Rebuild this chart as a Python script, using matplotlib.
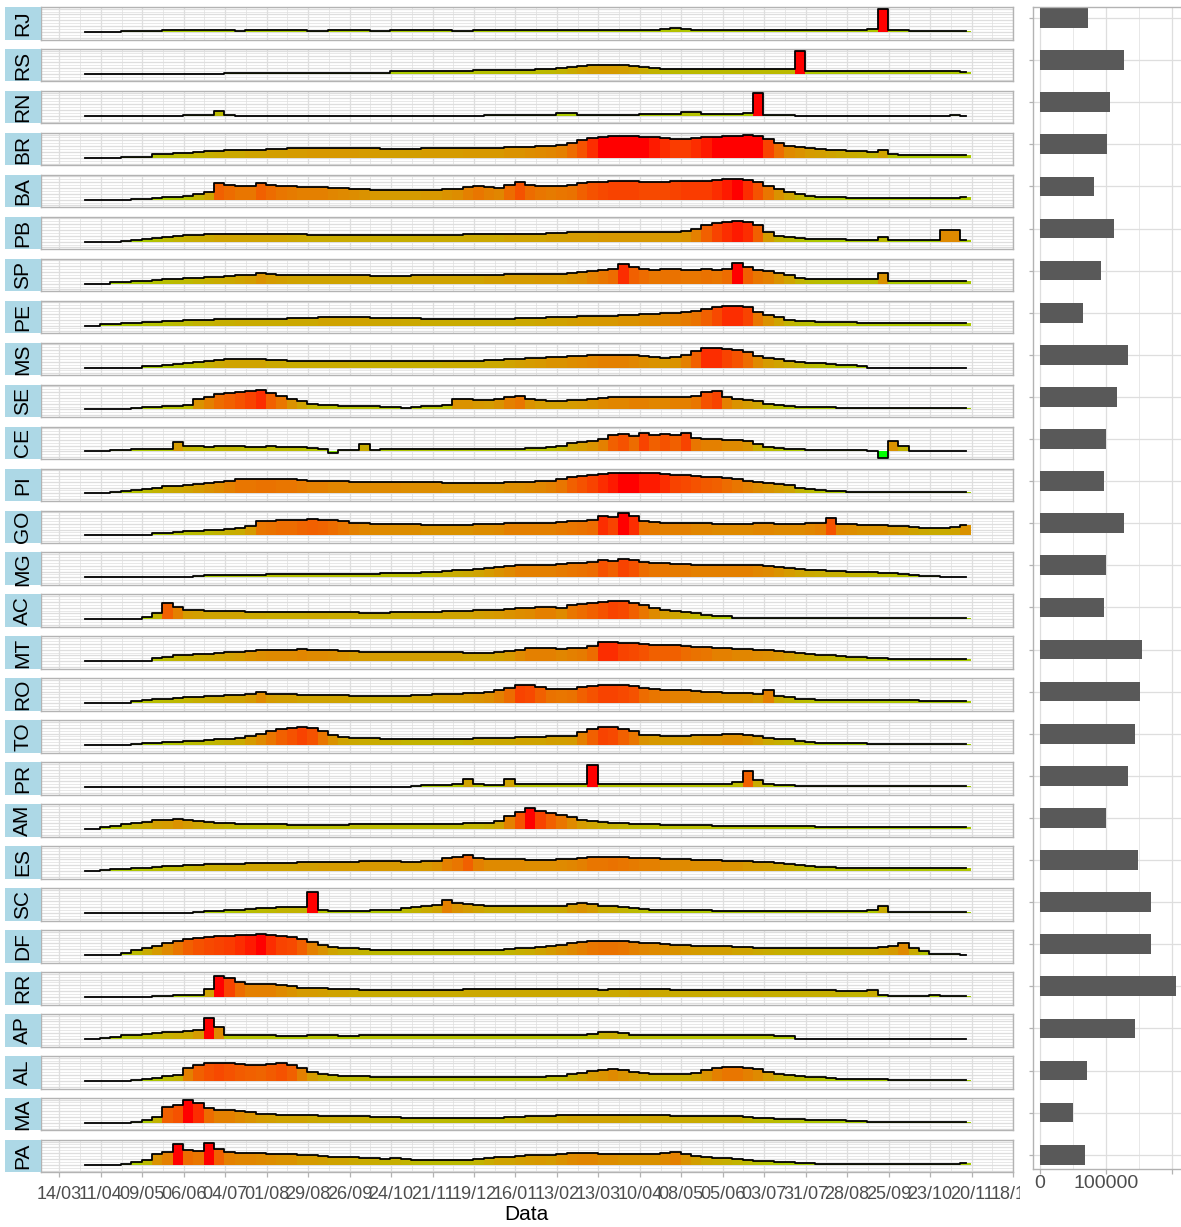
import numpy as np
import matplotlib
matplotlib.use('Agg')
import matplotlib.pyplot as plt
import matplotlib.dates as mdates
from matplotlib.colors import ListedColormap, Normalize
from matplotlib.transforms import Bbox, TransformedBbox

W, H = 1181, 1227
plt.rcParams['font.family'] = ['Liberation Sans', 'DejaVu Sans']

STATES = ['RJ', 'RS', 'RN', 'BR', 'BA', 'PB', 'SP', 'PE', 'MS', 'SE', 'CE', 'PI', 'GO', 'MG',
          'AC', 'MT', 'RO', 'TO', 'PR', 'AM', 'ES', 'SC', 'DF', 'RR', 'AP', 'AL', 'MA', 'PA']

# weekly samples starting 2020-03-31, relative level in percent of each state's maximum
START = np.datetime64('2020-03-31')
N_WEEKS = 86
DATES = START + np.arange(N_WEEKS) * np.timedelta64(7, 'D')

RJ = [0,0,0,0,3,4,5,5,8,8, 8,8,8,8,8,5,8,8,8,8, 8,8,5,5,8,8,8,8,5,5, 8,8,8,8,8,8,5,5,8,8,
      8,8,8,8,8,8,10,10,10,10, 10,10,8,8,8,10,12,15,12,10, 10,10,10,10,8,8,8,10,10,10,
      10,10,10,10,10,8,12,100,10,8, 5,5,5,5,5,5]
RS = [0]*14 + [4]*16 + [10,10,10,12,12,14,14,14,16,16,16,18,18,18,20,22] + \
     [25,30,35,38,40,40,38,35,30,25] + [22,20,20,20,20,20,20,22,22,20,20,20,20] + [100] + \
     [12]*15 + [8]
RN = [0]*10 + [3,3,3,20,3] + [0]*15 + [0,0,0,0,0,0,0,0,0,3,3,3,3,3,3,3] + [10,10] + \
     [5,5,5,5,5,5,8,8,8,8,15] + [15,8,8,8,8] + [10,100] + [3,3,3] + [0]*15 + [5,0]
BR = [0,0,0,0,5,5,5,15,18,20,22,25,28,30,32,32,35,35,38,38,40,
      40,42,42,42,42,42,40,40,38,38, 38,38,40,40,40,40,42,42,42,42,
      45,45,48,50,52,55, 65,75,85,90, 92,92,92,90,88,85, 82,82,85,88,90,
      92,95,100,95, 80,65,50,45, 40,38,35,32,30,28, 25,35, 15,12,10,10,10,10,10,10]
BA = [0,0,0,0,0, 3,5,8,10,12, 15,25,35, 70, 65, 60,60, 70, 65,60,58,55,55,55,52,50,
      48,45,42,40,40,40,40,42,42,45, 48,55,60,55,52, 65,75, 65,60,58,60,62,
      70,75,78,80,80,80,78,78,78,80,82,82,82, 85,88,90,85,75, 60,45,35,25,18,
      12,10,10,8,8,8,8,8,8,8,8,8,8,8,10]
PB = [0,0,0,0, 3,5,10, 15,20,25,28,30, 32,35,35,35,35,35,35,35,33,
      32,30,30,30,30,30,30,30,28,28,28,30,30,30,30, 30,32,32,32,32,35,35,35,35,38,
      38,40,40,40,42,42,42,42,42,42,42,42, 45,55,70,80,85,88,85, 70,40,25,20,
      15,12,10,10,10,8,8,8,20, 5,5,5,5,5, 50,50,8]
SP = [0,0,0, 5,8,10,12,15,18,20,22, 25,28,30,32,35,38, 45,
      40,38,36,35,35,35,35,35,35,35,33,33,33,33,35,35,35,35,35,35,35,
      38,38,40,40,40,42,42,42,45,48, 55,60,65,85, 70,65,60,62,62,60,60,62,60,65,
      90, 70,60,55,45,35,25,20, 18,18,18,18,18,18, 45, 10,10,10,10,10,10,10,10]
PE = [0,0, 5,8,10,12,15,15,18, 20,22,25,25,28,28,30,30,30,30,30,32,
      32,32,35,35,35,35,35,33,33,33, 32,32,30,30,30,30,30,30,30,30,30,32,32,34,35,
      36,38,40,40,42,42,45,45,48,50, 52,55,58,62,70, 78,85,85,80, 60,45,35,25,20,
      18,15,15,15,15,12,12,12,12,12,12,12,12,12,12,10]
MS = [0,0,0,0,0,0, 5,8,12,15,18, 22,28,32,35,35, 35,35,32,32,30,30,30,30,30,30,28,28,28,28,28,
      28,28,28,28,30,30,30,30,32,32, 35,38,40,42,45,45,48,50,52,55, 55,55,52,48,45,42,
      45,55,70, 85,85,80,75, 65,50,40,35,30,25, 20,18,15,12,10, 8, 0,0,0,0,0,0,0,0,0,0]
SE = [0,0,0,0,0, 5,10,12,15,15, 20, 45, 55,65,70,75,80, 85, 70,60,45,35,25,20,
      18,15,15,15,15,12,10, 5, 12,15,15,18, 45, 45,42,40,45, 55,60, 45,40,38,38,40,42,
      45,50,52,52,55,55,52,52,55,55, 60, 75,80, 55,45,40,35,25,18,15,
      12,10,10,10,8,8,8,8,8,8,5,5,5,5,5,5,5]
CE = [0,0,0, 5,8,10,10,12,12, 40, 25,22,20,22,25,22,20,20,22,20,20,18, 15,12, -8, 5,5, 30,8,
      10,10,12,12,12,12,12,12,12,12,12,12,12,12,15,15,18, 25,35,40,45,
      55,70,75,65,80,70,75,70,80, 60,55,55,50,50,45, 30,20,15,12,
      10,8,5,5,5,5,5, 0, -30, 45, 25, 0,0,0,0,0,0]
PI = [0,0,0, 5,10,15,20,25,30,32,35, 40,45,50,55,60, 60,62,62,60,60,
      58,55,55,52,52,50,50,50,50,50, 48,48,48,48,45,45,45,45,45,45,48,48,50,52,55,
      60,70,75,80,85, 88,90,90,88,88,85, 80,78,75,72,70,65, 60,55,50,45,40,35,
      25,20,15,12,10, 8,8,8,8,8,8,5,5,5,5,5,5]
GO = [0,0,0,0,0,0,0, 10,12,15,18,20,22,25,28,30, 40, 60, 62,65,65,68,70,68,65,60,
      55,52,50,50,48,48,48, 45,45,45,45,45,48,48,50, 55,55,55,55,55,58,60,
      62,65,85,80,95,85, 60,58,55,55,55,52,52, 50,50,50,50,52,52,50,50,50,52,55, 75,
      50,48,45,45,45,42,40, 35,32,30,30,35,45]
MG = [0]*11 + [5,8,10,12,12,12,12,15,15,15,15,15,15,15,15] + [15,15,15,18,18,18,20,22] + \
     [25,28,30,32,35,40,45] + [50,55,55,55,55,58,60] + [62,65,75,70,80,75] + \
     [65,60,60,58,58,55,55] + [55,55,55,55,52,50,45,40,35,32] + \
     [30,28,28,25,25,22,20,18,15,12] + [5,5,3,3,0]
AC = [0,0,0,0,0,0, 8, 25, 70, 55, 40,38,35,35,35,35,
      32,32,30,30,30,30,32,32,30,30,30,28,28,28,30, 30,32,32,32,35,35,35,38,40,42,
      45,48,50,55,55,50,60, 65,70,75,80,78, 70,60,50,40, 35,30,25,20,15,12] + [5]*23
MT = [0,0,0,0,0,0,0, 15,20,25,28,30,32,35,38,40, 45,48,50,50,50,52,50,50,48,
      45,42,40,40,38,38,38,38,38,38,38, 38,35,35,35,38,42, 50,55,55,55,52,55,58,65,
      85,85,80,78,75, 70,70,70,65,62,60,55, 55,52,52,50,48,45,40,
      35,32,28,25,22,20,18,15, 12,10,8,8,8,8,8,10,8]
RO = [0,0,0,0,0, 10,15,18,20,22,25,28,30,32,35,35, 40, 50,
      40,38,38,35,35,35,35,35,32,30,30,30,30,32, 35,35,38,40,40,42,45,48,55,
      65,80,78,70,62, 60,62,70,75,80,80,78,75, 65,60,58,55,55,52,50,48, 45,45,45,40, 55,
      30,25,20,18,15,15, 15,15,15,15,12,12,12,12,10,8,8,8,8]
TO = [0,0,0,0,0, 5,8,10,12,15,18,20,22,25,28,30, 40,50,60,70,75,80,75, 60,45,35,32,30,30,
      28,28,25,25,25,25,25,25,28,30, 30,32,32,35,35,35,38,38,40, 55,70,80,78,70,60,
      45,42,40,40,40,42, 45,45,48,48,45, 40,32,28,25,20,15] + [10,8,8,8,8] + [5]*10
PR = [0]*32 + [5,8,10,10,12, 35, 15,10,10, 35, 15,15,15,15,15,15,15, 95] + \
     [15]*13 + [20, 70, 30,15,10,8] + [5]*17
AM = [0,0, 8,15,22,28,32,38,40, 45, 40,35,30,28,25, 22,20,20,20,20,18,18,18,18,18,18,
      20,20,20,20,20,20,20,20,22,22,22,25,25,28, 35,55,75,90, 80,70,60,50,
      40,35,30,28,25,22,20,20, 18,18,18,18,18,15,15,15,15,15,15,12,12,12,12,
      10,10,10,10,8,8,8,8,8,8,8,8,8,8,8]
ES = [0,0, 5,8,10,12,15,18,20,22,25, 28,30,30,32,32,35,35,35,35,35,
      38,38,40,40,40,40,42,42,42,42,40,40,42,45, 55,60,70,55,50,50,
      50,50,48,48,48,50,52, 55,60,60,62,60,58,55,55, 52,50,50,48,48,48,45,45,42,
      40,38,35,30,25,20, 18,18,15,15,15,15,15,12,12,12,12,12,12,12,12]
SC = [0]*11 + [5,8,10,12,15,18, 20,22,25,25,25, 90, 15,10,10,10,10,12,12, 15,20,25,30,35, 55,
      45,40,35,30,30, 30,30,28,28,28,32, 40,45,40,30, 30,25,20,18,15] + \
     [12,12,12,12,12,10,10,10,10,10,10,10,10,10,10,10,10,10,10,10] + [12,30] + [5]*8
DF = [0,0,0,0, 10,20,30,40,50, 60,70,75,78,80,82,85,88,90,85,80,78,70, 55,45,35,
      30,28,25,22,20,20,20,20,20,20,22,22,22,22,22,22,25,28,30,35,40,
      45,50,55,60,62,62,60,55, 52,50,48,45,42,40,38,38,38,35,35,32,
      30,28,28,28,28,28,28,28,30,30,32,35, 40,50, 30,15, 5,5,3,0]
RR = [0,0,0,0,0,0,0, 5,5,8,10,10, 35, 90, 80, 65, 55,55,55, 50,45,40,40,38,35,35,32,30,30,
      28,28,28,28,30,30,30,30,32,32,32,32, 32,32,32,32,32,32,32,32,32,30,32,32,35,35,32,
      32,30,30,30,30,28,28,28,28,30,28,28,28,28,28, 28,28,26,25,25,30, 10,5,
      5,5,5,8,5,5,5]
AP = [0,0, 5,10,15,18,20,25,28,30,32, 40, 90, 50, 15,15,15,15,15,12,12,
      12,15,15,15,12,12,15,15,15,15,15,15,15,15,15,15,15,15,15,15,15,15,15,15,15,15,15,15,
      20,28,30,25, 18,18,18,15,15,15,15,15,15,15,15,15,15,15,12,12] + [0]*17
AL = [0,0,0,0,0, 5,8,12,20,25, 55,70,75,78,75,72,70,68, 72,75,70,55, 40,30,25,22,
      20,22,18,18,15,15,15,15,15,15,15,15,15,15,15,15,15,18,18,20,
      22,28,35,42,45,50,45, 40,35,30,30,30,30,35,45, 55,60,60,55,50,40,
      30,25,20,18,15,12,10] + [8,8,8,8,5,5,5,5,5,5,5,5]
MA = [0,0,0,0,0, 5,10,25, 70, 75, 100, 85, 65,55,55,50,45,
      40,38,35,35,35,32,30,30,30,28,28,25,25,25, 22,22,20,20,20,20,20,22,22,22,25,25,28,28,30,
      32,35,35,35,35,35,35,32,32,35, 32,30,30,30,28,28,28,30,25,22,
      20,18,15,15,12,12,10,10,8,8] + [5]*10
PA = [0,0,0,0, 5,10,20, 45, 55, 90, 65, 60, 95, 70, 55,52,52,50, 48,45,45,40,40,
      38,35,35,32,30,30,25,28, 25,22,20,20,20,20,22,25, 30,35,35,38,40,42,40,
      45,50,52,52,48,48,45,45, 45,45,50,55,45,38,32, 30,28,25,22,18,15,
      12,10,8,8] + [5]*14 + [8]

SERIES = [RJ, RS, RN, BR, BA, PB, SP, PE, MS, SE, CE, PI, GO, MG,
          AC, MT, RO, TO, PR, AM, ES, SC, DF, RR, AP, AL, MA, PA]

# right-hand bar chart values
BAR_VALUES = [72700, 127000, 106000, 101000, 82000, 112000, 92000, 65000, 133000, 117000,
              100000, 97000, 127000, 100000, 97000, 155000, 152000, 144000, 133000, 100000,
              148000, 168000, 168000, 206000, 144000, 71000, 50000, 68000]

TICK_START = np.datetime64('2020-03-14')
N_TICKS = 24

# ---------- colour scale (green -> red, interpolated in CIE Lab like ggplot) ----------
_M = np.array([[0.4124564, 0.3575761, 0.1804375],
               [0.2126729, 0.7151522, 0.0721750],
               [0.0193339, 0.1191920, 0.9503041]])
_WP = np.array([0.95047, 1.0, 1.08883])


def srgb_to_lab(rgb):
    rgb = np.asarray(rgb, float)
    lin = np.where(rgb <= 0.04045, rgb / 12.92, ((rgb + 0.055) / 1.055) ** 2.4)
    xyz = lin @ _M.T
    t = xyz / _WP
    d = 6 / 29
    f = np.where(t > d ** 3, np.cbrt(t), t / (3 * d * d) + 4 / 29)
    return np.stack([116 * f[..., 1] - 16, 500 * (f[..., 0] - f[..., 1]),
                     200 * (f[..., 1] - f[..., 2])], -1)


def lab_to_srgb(lab):
    L, a, b = lab[..., 0], lab[..., 1], lab[..., 2]
    fy = (L + 16) / 116
    f = np.stack([fy + a / 500, fy, fy - b / 200], -1)
    d = 6 / 29
    t = np.where(f > d, f ** 3, 3 * d * d * (f - 4 / 29))
    lin = np.clip((t * _WP) @ np.linalg.inv(_M).T, 0, 1)
    rgb = np.where(lin <= 0.0031308, 12.92 * lin, 1.055 * lin ** (1 / 2.4) - 0.055)
    return np.clip(rgb, 0, 1)


lab0 = srgb_to_lab([0.0, 1.0, 0.0])
lab1 = srgb_to_lab([1.0, 0.0, 0.0])
tt = np.linspace(0, 1, 256)[:, None]
CMAP = ListedColormap(lab_to_srgb(lab0 * (1 - tt) + lab1 * tt))

all_vals = np.concatenate([np.array(s, float) / 100 for s in SERIES])
NORM = Normalize(vmin=all_vals.min(), vmax=0.9 * all_vals.max(), clip=True)

# ---------- figure ----------
fig = plt.figure(figsize=(W / 100, H / 100), dpi=100)
fig.patch.set_facecolor('white')

GRID = '#DEDEDE'
BORDER = '#B3B3B3'
TXT = '#4D4D4D'

PANEL_L, PANEL_R = 40.7, 1013.0
PANEL_TOP0, PITCH, PANEL_H = 7.0, 41.96, 32.5
STRIP_L = 5.0

xlim = (mdates.date2num(np.datetime64('2020-03-01T10:00')), mdates.date2num(np.datetime64('2021-12-18')))
major_ticks = TICK_START + np.arange(N_TICKS) * np.timedelta64(28, 'D')
minor_ticks = TICK_START + np.timedelta64(14, 'D') + np.arange(N_TICKS - 1) * np.timedelta64(28, 'D')

axes = []
for i, (st, ser) in enumerate(zip(STATES, SERIES)):
    top = PANEL_TOP0 + i * PITCH
    ax = fig.add_axes([PANEL_L / W, 1 - (top + PANEL_H) / H, (PANEL_R - PANEL_L) / W, PANEL_H / H])
    vals = np.array(ser, float) / 100
    ax.bar(DATES, vals, width=7, color=CMAP(NORM(vals)), linewidth=0, align='center', zorder=2)
    ax.step(DATES, vals, where='mid', color='black', lw=1.3, zorder=3)
    ax.set_xlim(*xlim)
    ax.set_ylim(-0.33, 1.07)
    ax.set_yticks([-0.25, 0, 0.25, 0.5, 0.75, 1.0])
    ax.set_yticks([-0.125, 0.125, 0.375, 0.625, 0.875], minor=True)
    ax.set_xticks(major_ticks)
    ax.set_xticks(minor_ticks, minor=True)
    ax.grid(True, which='major', color=GRID, lw=0.9, zorder=0)
    ax.grid(True, which='minor', color=GRID, lw=0.5, zorder=0)
    ax.set_axisbelow(True)
    ax.tick_params(axis='y', which='both', left=False, labelleft=False)
    ax.tick_params(axis='x', which='minor', bottom=False)
    for sp in ax.spines.values():
        sp.set_color(BORDER)
        sp.set_linewidth(1.0)
    if i < len(STATES) - 1:
        ax.tick_params(axis='x', which='major', bottom=False, labelbottom=False)
    else:
        ax.xaxis.set_major_formatter(mdates.DateFormatter('%d/%m'))
        ax.tick_params(axis='x', which='major', length=3.5, width=0.9, color=BORDER,
                       labelcolor=TXT, labelsize=13, pad=6)
        ax.set_xlabel('Data', fontsize=15, color='black', labelpad=2)
    # strip
    sax = fig.add_axes([STRIP_L / W, 1 - (top + PANEL_H) / H, (PANEL_L - STRIP_L) / W, PANEL_H / H])
    sax.set_facecolor('#ADD8E6')
    sax.set_xticks([])
    sax.set_yticks([])
    for sp in sax.spines.values():
        sp.set_visible(False)
    sax.text(0.5, 0.5, st, rotation=90, ha='center', va='center', fontsize=15,
             color='black', transform=sax.transAxes)
    axes.append(ax)

# clip the bottom tick labels to the left chart region
clipbox = TransformedBbox(Bbox([[0, 0], [1020 / W, 1]]), fig.transFigure)
for lab in axes[-1].get_xticklabels():
    lab.set_clip_on(True)
    lab.set_clip_box(clipbox)

# ---------- right bar chart ----------
R_L, R_R, R_T, R_B = 1033.0, 1183.0, 6.7, 1169.0
rax = fig.add_axes([R_L / W, 1 - R_B / H, (R_R - R_L) / W, (R_B - R_T) / H])
ypos = np.arange(len(STATES))
rax.barh(ypos, BAR_VALUES, height=0.47, color='#595959', zorder=2)
px_per_unit = 66 / 100000
rax.set_xlim((R_L - 1040) / px_per_unit, (R_R - 1040) / px_per_unit)
y0 = (R_T - 18) / 42.1
y1 = (R_B - 18) / 42.1
rax.set_ylim(y1, y0)
rax.set_yticks(ypos)
rax.set_yticklabels([])
rax.set_xticks([0, 100000, 200000])
rax.set_xticklabels(['0', '100000', ''])
rax.set_xticks([50000, 150000], minor=True)
rax.grid(True, which='major', color=GRID, lw=0.9, zorder=0)
rax.grid(True, which='minor', axis='x', color=GRID, lw=0.5, zorder=0)
rax.set_axisbelow(True)
rax.tick_params(axis='x', which='minor', bottom=False)
rax.tick_params(axis='x', which='major', length=3.5, width=0.9, color=BORDER,
                labelcolor=TXT, labelsize=14, pad=1)
rax.tick_params(axis='y', length=3, width=0.9, color=BORDER)
for sp in rax.spines.values():
    sp.set_color(BORDER)
    sp.set_linewidth(1.0)

fig.savefig('out.png', dpi=100, facecolor='white')
